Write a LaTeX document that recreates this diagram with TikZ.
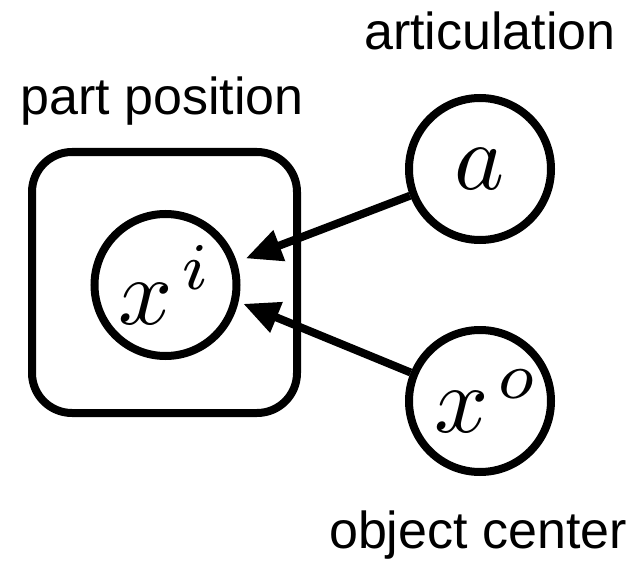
\documentclass[tikz,border=0pt]{standalone}
\usepackage{graphicx}
\usepackage{fontspec}
\setmainfont{Liberation Sans}
\usetikzlibrary{arrows.meta}

\newcommand{\bigmath}[1]{\scalebox{9.5}{$#1$}}

\tikzset{
  var/.style={circle, draw, line width=8pt, minimum size=142pt, inner sep=0pt},
  plate/.style={draw, line width=8pt, rounded corners=40pt, inner sep=0pt},
  caption/.style={anchor=base, inner sep=0pt, font=\fontsize{52}{52}\selectfont},
  dep/.style={line width=8pt, -{Triangle[length=36pt, width=31pt]}}
}

\begin{document}
\begin{tikzpicture}[x=1pt, y=-1pt]
  \useasboundingbox (0,0) rectangle (637,567);

  % plate around the part variable
  \node[plate, minimum width=265pt, minimum height=261pt] (box) at (164.5,282.5) {};

  % random variables
  \node[var] (xi) at (165.5,285) {\bigmath{x^{\mkern2mu i}}};
  \node[var] (a)  at (480,169) {\bigmath{a}};
  \node[var] (xo) at (480,401) {\hspace{15pt}\bigmath{x^{\mkern2mu o}}};

  % labels
  \node[caption] (lart) at (490,50)  {articulation};
  \node[caption] (lpart) at (162,115) {part position};
  \node[caption] (lobj) at (478,548) {object center};

  % dependencies
  \draw[dep, shorten >=9.5pt] (a) -- (xi.18);
  \draw[dep, shorten >=5pt] (xo) -- (xi.-13);
\end{tikzpicture}
\end{document}
